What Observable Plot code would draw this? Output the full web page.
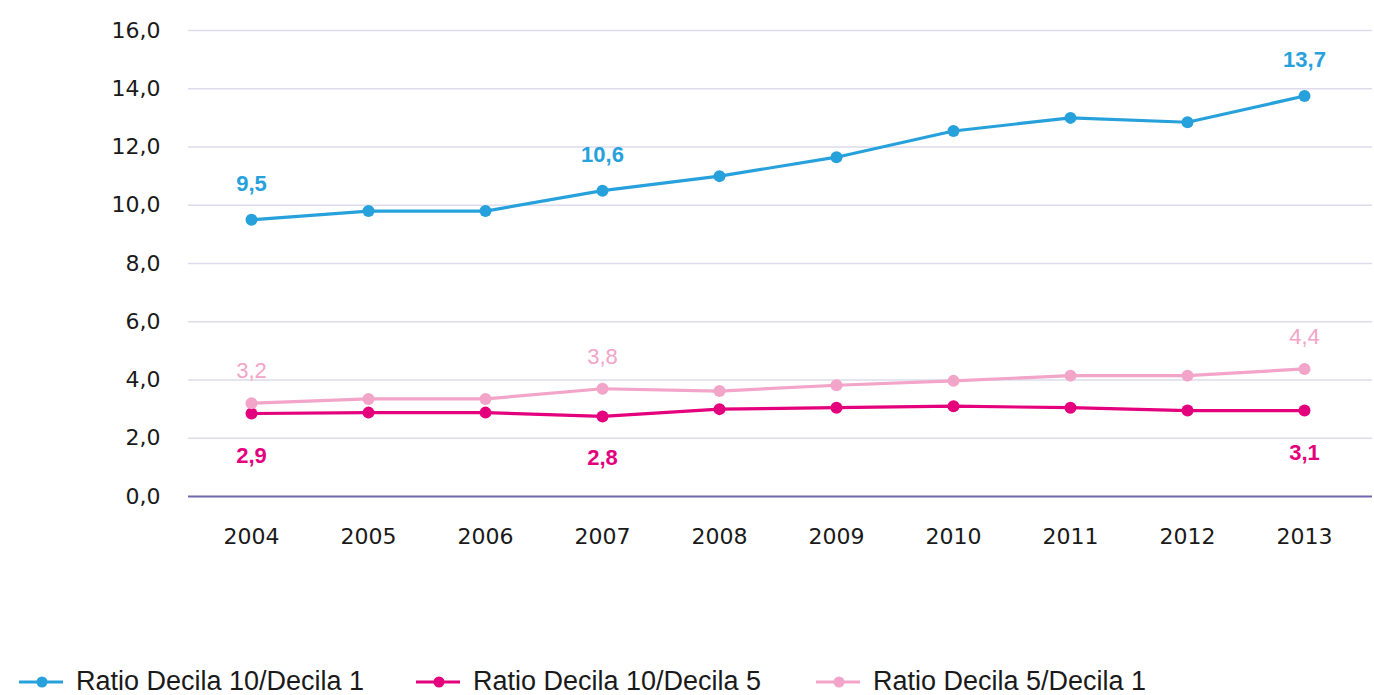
<!DOCTYPE html>
<html>
<head>
<meta charset="utf-8">
<script src="https://cdn.jsdelivr.net/npm/d3@7"></script>
<script src="https://cdn.jsdelivr.net/npm/@observablehq/plot@0.6"></script>
<style>
  body { margin: 0; background: #fff; font-family: "Liberation Sans", Arial, sans-serif; }
  #legend { position: relative; height: 40px; margin-top: 106px; font-family: "Liberation Sans Narrow", "Liberation Sans", sans-serif; font-size: 27px; color: #1a1a1a; }
  .item { position: absolute; display: flex; align-items: center; top: 0; white-space: nowrap; }
  .item svg { margin-right: 12px; }
</style>
</head>
<body>
<div id="chart"></div>
<div id="legend"></div>
<script>
const years = [2004, 2005, 2006, 2007, 2008, 2009, 2010, 2011, 2012, 2013];
const ratio10_1 = [9.5, 9.8, 9.8, 10.5, 11.0, 11.65, 12.55, 13.0, 12.85, 13.75];
const ratio10_5 = [2.85, 2.88, 2.88, 2.75, 3.0, 3.05, 3.1, 3.05, 2.95, 2.95];
const ratio5_1 = [3.2, 3.35, 3.35, 3.7, 3.62, 3.82, 3.97, 4.15, 4.15, 4.38];
const seriesNames = ["Ratio Decila 10/Decila 1", "Ratio Decila 10/Decila 5", "Ratio Decila 5/Decila 1"];
const seriesColors = ["#27a1dc", "#e4007d", "#f2a4c9"];
const labelYears = [2004, 2007, 2013];
const labels10_1 = [9.5, 10.6, 13.7];
const labels10_5 = [2.9, 2.8, 3.1];
const labels5_1 = [3.2, 3.8, 4.4];
const yTicks = [0, 2, 4, 6, 8, 10, 12, 14, 16];

const fmt = d => d.toFixed(1).replace(".", ",");
const allSeries = [ratio10_1, ratio10_5, ratio5_1];
const allLabels = [labels10_1, labels10_5, labels5_1];
const data = [];
allSeries.forEach((vals, s) => years.forEach((y, i) => data.push({series: seriesNames[s], year: y, value: vals[i]})));
const labelData = [];
allLabels.forEach((labs, s) => labelYears.forEach((y, i) => {
  const idx = years.indexOf(y);
  labelData.push({series: s, year: y, value: allSeries[s][idx], text: fmt(labs[i])});
}));
const byS = s => labelData.filter(d => d.series === s);
const labelFont = "'Liberation Sans', Arial, sans-serif";

const plot = Plot.plot({
  width: 1374,
  height: 560,
  marginLeft: 188,
  marginRight: 2,
  marginTop: 30,
  marginBottom: 64,
  style: { fontFamily: "'DejaVu Sans', sans-serif", fontSize: "22px", color: "#1a1a1a", background: "#fff" },
  x: { type: "point", domain: years, range: [250, 1304], padding: 0, label: null, tickSize: 0, tickPadding: 32, tickFormat: d => String(d) },
  y: { domain: [0, 16], label: null, ticks: yTicks, tickSize: 0, tickPadding: 28, tickFormat: fmt },
  color: { domain: seriesNames, range: seriesColors },
  marks: [
    Plot.ruleY(yTicks.filter(d => d > 0), { stroke: "#dddcec", strokeWidth: 1.5 }),
    Plot.ruleY([0], { stroke: "#6f67ad", strokeWidth: 2 }),
    Plot.line(data, { x: "year", y: "value", z: "series", stroke: "series", strokeWidth: 3.2 }),
    Plot.dot(data, { x: "year", y: "value", fill: "series", r: 6 }),
    Plot.text(byS(0), { x: "year", y: "value", text: "text", dy: -36, fill: seriesColors[0], fontWeight: "bold", fontSize: 22, fontFamily: labelFont }),
    Plot.text(byS(1), { x: "year", y: "value", text: "text", dy: 42, fill: seriesColors[1], fontWeight: "bold", fontSize: 22, fontFamily: labelFont }),
    Plot.text(byS(2), { x: "year", y: "value", text: "text", dy: -32, fill: seriesColors[2], fontWeight: "normal", fontSize: 22, fontFamily: labelFont })
  ]
});
document.getElementById("chart").appendChild(plot);

const legend = document.getElementById("legend");
const lefts = [18, 415, 815];
seriesNames.forEach((name, i) => {
  const div = document.createElement("div");
  div.className = "item";
  div.style.left = lefts[i] + "px";
  div.innerHTML = `<svg width="46" height="14"><line x1="1" x2="45" y1="7" y2="7" stroke="${seriesColors[i]}" stroke-width="3"/><circle cx="24" cy="7" r="5.5" fill="${seriesColors[i]}"/></svg><span>${name}</span>`;
  legend.appendChild(div);
});
</script>
</body>
</html>
